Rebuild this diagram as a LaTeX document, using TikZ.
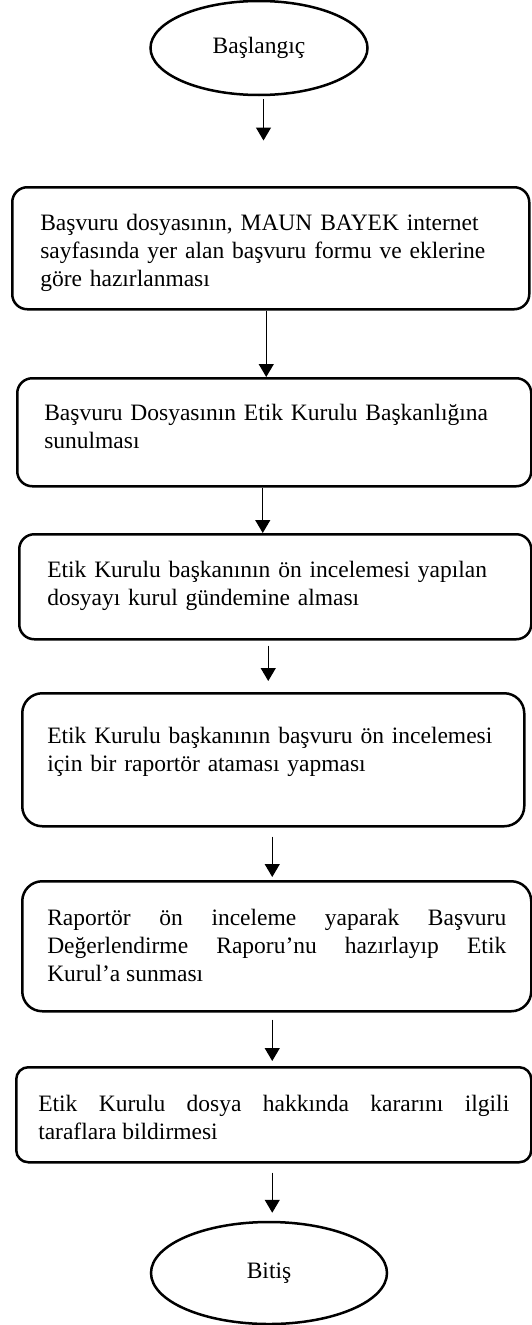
\documentclass[tikz,border=0pt]{standalone}
\usepackage{fontspec}
\setmainfont{Liberation Serif}
\usetikzlibrary{shapes.geometric,arrows.meta}

\tikzset{
	stepbox/.style={draw, line width=2.5pt, rounded corners=15pt, anchor=north west, inner ysep=0pt, align=left},
	term/.style={draw, ellipse, line width=2.5pt, inner sep=0pt},
	flow/.style={line width=1.2pt, -{Triangle[length=13pt,width=15pt]}},
}

\begin{document}
\begin{tikzpicture}[every node/.style={font=\fontsize{23.5}{28}\selectfont}]
	\useasboundingbox (0,0) rectangle (531pt,-1325pt);
	% start and end
	\node[term, minimum width=217pt, minimum height=94pt] (start) at (259pt,-48pt) {Başlangıç};
	\node[term, minimum width=236pt, minimum height=102pt] (stop) at (269pt,-1273pt) {Bitiş};
	% steps
	\node[stepbox, text width=461pt, inner xsep=28pt, text height=43pt, text depth=79pt] (b1) at (11pt,-186pt) {Başvuru dosyasının, MAUN BAYEK internet\\ sayfasında yer alan başvuru formu ve eklerine\\ göre hazırlanması};
	\node[stepbox, text width=460pt, inner xsep=27pt, text height=42pt, text depth=66pt] (b2) at (16pt,-377pt) {Başvuru Dosyasının Etik Kurulu Başkanlığına\\ sunulması};
	\node[stepbox, text width=456pt, inner xsep=28pt, text height=43pt, text depth=62pt] (b3) at (18pt,-533pt) {Etik Kurulu başkanının ön incelemesi yapılan\\ dosyayı kurul gündemine alması};
	\node[stepbox, rounded corners=20pt, text width=452pt, inner xsep=25pt, text height=50pt, text depth=83pt] (b4) at (21pt,-692pt) {Etik Kurulu başkanının başvuru ön incelemesi\\ için bir raportör ataması yapması};
	\node[stepbox, rounded corners=20pt, align=justify, text width=459pt, inner xsep=25pt, text height=44pt, text depth=86pt] (b5) at (21pt,-880pt) {Raportör ön inceleme yaparak Başvuru\linebreak Değerlendirme Raporu’nu hazırlayıp Etik\linebreak Kurul’a sunması};
	\node[stepbox, rounded corners=12pt, align=justify, text width=471pt, inner xsep=22pt, text height=44pt, text depth=51pt] (b6) at (15pt,-1066pt) {Etik Kurulu dosya hakkında kararını ilgili\linebreak taraflara bildirmesi};
	% arrows
	\draw[flow, shorten <=3pt, shorten >=45.5pt] ([xshift=4.5pt]start.south) -- ([xshift=4.5pt]start.south |- b1.north);
	\draw[flow] ([xshift=-4.5pt]b1.south) -- ([xshift=-4.5pt]b1.south |- b2.north);
	\draw[flow] ([xshift=-11.5pt]b2.south) -- ([xshift=-11.5pt]b2.south |- b3.north);
	\draw[flow, shorten <=5pt, shorten >=11pt] ([xshift=-7pt]b3.south) -- ([xshift=-7pt]b3.south |- b4.north);
	\draw[flow, shorten <=9pt, shorten >=3pt] ([xshift=-1pt]b4.south) -- ([xshift=-1pt]b4.south |- b5.north);
	\draw[flow, shorten <=7pt, shorten >=5pt] ([xshift=-4.5pt]b5.south) -- ([xshift=-4.5pt]b5.south |- b6.north);
	\draw[flow, shorten <=9pt, shorten >=8pt] ([xshift=-1.5pt]b6.south) -- ([xshift=-1.5pt]b6.south |- stop.north);
\end{tikzpicture}
\end{document}
